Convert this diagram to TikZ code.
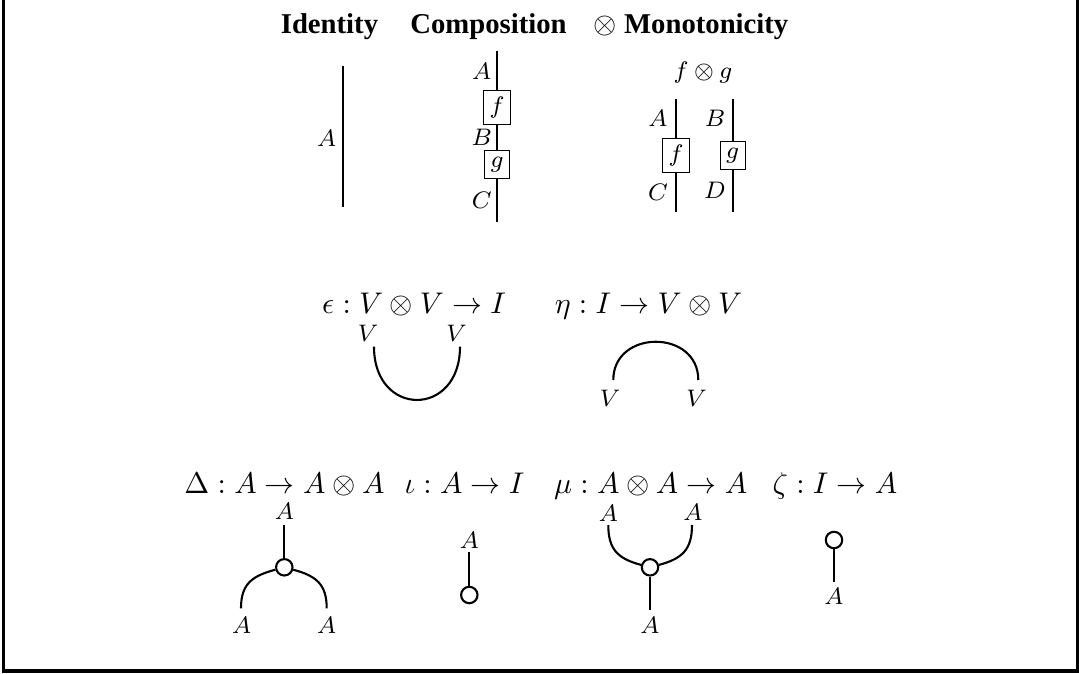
\documentclass[tikz,border=0pt]{standalone}
\usepackage{fontspec}
\setmainfont{Liberation Serif}
\begin{document}
\begin{tikzpicture}[x=0.1176cm, y=0.1176cm, line width=0.7pt,
    hdr/.style={anchor=base, inner sep=0pt},
    ttl/.style={anchor=base, inner sep=0pt, font=\fontsize{9.6}{11}\selectfont\bfseries},
    lab/.style={font=\footnotesize, inner sep=0pt},
    fbox/.style={draw, line width=0.4pt, inner xsep=2pt, inner ysep=2.1pt, font=\footnotesize},
    dot/.style={circle, draw, inner sep=0pt, minimum size=5.5pt}]
  \useasboundingbox (0,0) rectangle (107.9,67.3);
  % --- frame ---
  \draw[line width=1.1pt] (0.33,67.3) -- (0.33,0.2) -- (107.75,0.2) -- (107.75,67.3);

  % --- titles ---
  \node[ttl] (tId) at (32.95,64.0) {Identity};
  \node[ttl] (tComp) at (48.85,64.0) {Composition};
  \node[ttl] (tMono) at (69.1,64.0) {$\otimes$ Monotonicity};

  % --- Identity ---
  \begin{scope}[shift={(34.27,0)}]
    \coordinate (id0) at (0,60.73);
    \coordinate (id1) at (0,46.63);
    \draw (id0) -- (id1);
    \node[lab] (idA) at (-1.6,53.5) {$A$};
  \end{scope}

  % --- Composition ---
  \begin{scope}[shift={(49.7,0)}]
    \coordinate (c0) at (0,62.23);
    \node[fbox] (cf) at (0,56.57) {$f$};
    \node[fbox] (cg) at (0,50.85) {$g$};
    \coordinate (c1) at (0,45.13);
    \draw (c0) -- (cf) -- (cg) -- (c1);
    \node[lab] (cA) at (-1.53,60.13) {$A$};
    \node[lab] (cB) at (-1.53,53.57) {$B$};
    \node[lab] (cC) at (-1.53,47.3) {$C$};
  \end{scope}

  % --- tensor monotonicity ---
  \begin{scope}[shift={(70.4,0)}]
    \node[lab] (mfg) at (-0.1,60.0) {$f\otimes g$};
    \coordinate (ml0) at (-2.8,57.4);
    \node[fbox] (mf) at (-2.8,51.77) {$f$};
    \coordinate (ml1) at (-2.8,46.13);
    \draw (ml0) -- (mf) -- (ml1);
    \coordinate (mr0) at (2.87,57.4);
    \node[fbox] (mg) at (2.87,51.75) {$g$};
    \coordinate (mr1) at (2.87,46.13);
    \draw (mr0) -- (mg) -- (mr1);
    \node[lab] (mA) at (-4.6,55.5) {$A$};
    \node[lab] (mC) at (-4.6,48.03) {$C$};
    \node[lab] (mB) at (1.1,55.5) {$B$};
    \node[lab] (mD) at (1.1,48.3) {$D$};
  \end{scope}

  % --- cup ---
  \node[hdr] (tEps) at (41.4,35.97) {$\epsilon : V \otimes V \to I$};
  \coordinate (eL) at (37.4,32.63);
  \coordinate (eR) at (46.0,32.63);
  \draw (eL) .. controls +(0,-7.1) and +(0,-7.1) .. (eR);
  \node[lab] (eVL) at (36.8,34.0) {$V$};
  \node[lab] (eVR) at (45.67,34.0) {$V$};

  % --- cap ---
  \node[hdr] (tEta) at (64.85,35.97) {$\eta : I \to V \otimes V$};
  \coordinate (hL) at (61.33,29.3);
  \coordinate (hR) at (69.83,29.3);
  \draw (hL) .. controls +(0,5.1) and +(0,5.1) .. (hR);
  \node[lab] (hVL) at (61.0,27.47) {$V$};
  \node[lab] (hVR) at (69.67,27.47) {$V$};

  % --- comultiplication ---
  \node[hdr] (tDel) at (28.45,17.97) {$\Delta : A \to A \otimes A$};
  \coordinate (d0) at (28.43,14.8);
  \node[dot] (dd) at (28.43,10.57) {};
  \coordinate (dL) at (24.1,6.47);
  \coordinate (dR) at (32.67,6.47);
  \draw (d0) -- (dd);
  \draw (dd) to[out=195,in=90,looseness=1.2] (dL);
  \draw (dd) to[out=-15,in=90,looseness=1.2] (dR);
  \node[lab] (dA) at (28.43,16.13) {$A$};
  \node[lab] (dAL) at (24.17,4.73) {$A$};
  \node[lab] (dAR) at (32.67,4.73) {$A$};

  % --- counit ---
  \node[hdr] (tIot) at (46.45,17.97) {$\iota : A \to I$};
  \coordinate (i0) at (46.93,12.13);
  \node[dot] (idot) at (46.93,7.8) {};
  \draw (i0) -- (idot);
  \node[lab] (iA) at (46.93,13.3) {$A$};

  % --- multiplication ---
  \node[hdr] (tMu) at (65.07,17.97) {$\mu : A \otimes A \to A$};
  \coordinate (mL) at (60.83,14.8);
  \coordinate (mR) at (69.2,14.8);
  \node[dot] (md) at (65.0,10.57) {};
  \coordinate (m1) at (65.0,6.3);
  \draw (mL) to[out=-90,in=165,looseness=1.2] (md);
  \draw (mR) to[out=-90,in=15,looseness=1.2] (md);
  \draw (md) -- (m1);
  \node[lab] (muAL) at (60.83,15.97) {$A$};
  \node[lab] (muAR) at (69.3,16.1) {$A$};
  \node[lab] (muA) at (65.0,4.73) {$A$};

  % --- unit ---
  \node[hdr] (tZet) at (83.5,17.97) {$\zeta : I \to A$};
  \node[dot] (zd) at (83.4,13.3) {};
  \coordinate (z1) at (83.4,9.07);
  \draw (zd) -- (z1);
  \node[lab] (zA) at (83.4,7.63) {$A$};
\end{tikzpicture}
\end{document}
